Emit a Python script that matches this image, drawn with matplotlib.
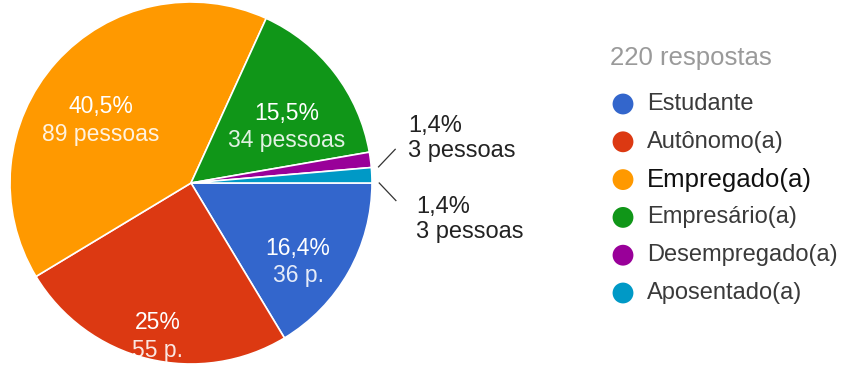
import numpy as np
import matplotlib.pyplot as plt

categorias = ["Estudante", "Autônomo(a)", "Empregado(a)", "Empresário(a)",
              "Desempregado(a)", "Aposentado(a)"]
pessoas = [36, 55, 89, 34, 3, 3]
percentuais = ["16,4%", "25%", "40,5%", "15,5%", "1,4%", "1,4%"]
contagens = ["36 p.", "55 p.", "89 pessoas", "34 pessoas", "3 pessoas", "3 pessoas"]
cores = ["#3366cc", "#dc3912", "#ff9900", "#109618", "#990099", "#0099c6"]
total_respostas = 220

plt.rcParams['font.family'] = ['Liberation Sans', 'DejaVu Sans']

W, H = 842, 365
fig = plt.figure(figsize=(W / 100, H / 100), dpi=100)

# camada de legenda em pixels (y para baixo)
leg = fig.add_axes([0, 0, 1, 1])
leg.set_xlim(0, W)
leg.set_ylim(H, 0)
leg.axis('off')

# pizza: centro e raio em pixels
cx, cy, r = 191, 183, 181
ax = fig.add_axes([(cx - r) / W, (H - cy - r) / H, 2 * r / W, 2 * r / H])
wedges, _ = ax.pie(pessoas, colors=cores, startangle=0, counterclock=False,
                   wedgeprops=dict(edgecolor="white", linewidth=1.2))
ax.set_xlim(-1, 1)
ax.set_ylim(-1, 1)

raios_rotulo = [0.68, 0.77, 0.67, 0.67]
for i, w in enumerate(wedges):
    ang = np.deg2rad((w.theta1 + w.theta2) / 2)
    if i < 4:
        rr = raios_rotulo[i]
        x, y = rr * np.cos(ang), rr * np.sin(ang) - 0.025
        ax.text(x, y, percentuais[i], ha='center', va='center',
                fontsize=16.5, color='white')
        ax.text(x, y - 0.152, contagens[i], ha='center', va='center',
                fontsize=16.5, color='white', alpha=0.88)
    else:
        # fatias pequenas: linha de chamada e texto fora da pizza
        sinal = 1 if i == 4 else -1
        base = np.deg2rad(w.theta1)
        x0, y0 = 1.04 * np.cos(base), 1.04 * np.sin(base)
        x1, y1 = x0 + 0.092, y0 + sinal * 0.097
        ax.plot([x0, x1], [y0, y1], color='#333333', lw=0.9, clip_on=False)
        tx = 1.2 if i == 4 else 1.244
        ty = y1 + 0.06 if i == 4 else y1 - 0.106
        ax.text(tx, ty, percentuais[i] + "\n" + contagens[i], ha='left',
                va='center', fontsize=17, color='#222222', linespacing=1.18)

leg.text(610, 58, f"{total_respostas} respostas", ha='left', va='center',
         fontsize=18.5, color='#9a9a9a')
for i, nome in enumerate(categorias):
    yy = 104 + 37.8 * i
    leg.scatter([623], [yy], s=225, color=cores[i], edgecolors='none')
    destaque = nome == "Empregado(a)"
    leg.text(647, yy, nome, ha='left', va='center',
             fontsize=18.5 if destaque else 17,
             color='#111111' if destaque else '#3a3a3a')

fig.savefig("out.png", dpi=100, facecolor='white')
